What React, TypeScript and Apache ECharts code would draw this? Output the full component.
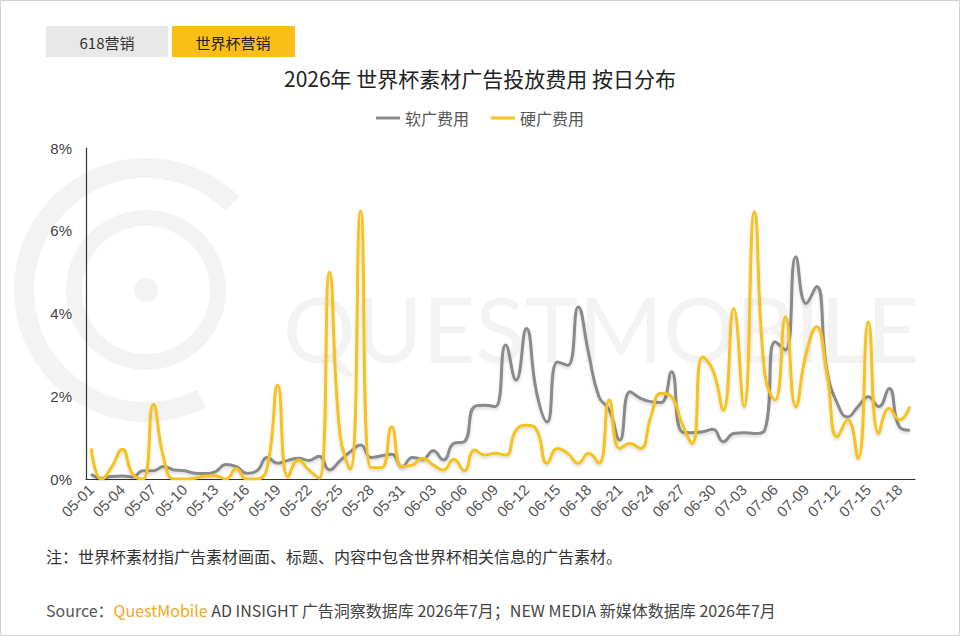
import React, { useEffect, useRef } from "react";
import * as echarts from "echarts";

const dates = [
  "05-01","05-02","05-03","05-04","05-05","05-06","05-07","05-08","05-09","05-10",
  "05-11","05-12","05-13","05-14","05-15","05-16","05-17","05-18","05-19","05-20",
  "05-21","05-22","05-23","05-24","05-25","05-26","05-27","05-28","05-29","05-30",
  "05-31","06-01","06-02","06-03","06-04","06-05","06-06","06-07","06-08","06-09",
  "06-10","06-11","06-12","06-13","06-14","06-15","06-16","06-17","06-18","06-19",
  "06-20","06-21","06-22","06-23","06-24","06-25","06-26","06-27","06-28","06-29",
  "06-30","07-01","07-02","07-03","07-04","07-05","07-06","07-07","07-08","07-09",
  "07-10","07-11","07-12","07-13","07-14","07-15","07-16","07-17","07-18","07-19",
];

// 软广费用 (%)
const softAd = [
  0.12, 0.02, 0.06, 0.07, 0.05, 0.2, 0.2, 0.3, 0.22, 0.2,
  0.14, 0.13, 0.18, 0.35, 0.3, 0.14, 0.2, 0.52, 0.38, 0.45,
  0.5, 0.45, 0.55, 0.22, 0.44, 0.66, 0.82, 0.52, 0.56, 0.6,
  0.3, 0.52, 0.48, 0.68, 0.46, 0.86, 0.9, 1.75, 1.78, 1.75,
  3.24, 2.39, 3.64, 2.07, 1.38, 2.83, 2.75, 4.16, 3.04, 1.99,
  1.67, 0.94, 2.11, 1.95, 1.87, 1.85, 2.59, 1.14, 1.12, 1.14,
  1.2, 0.9, 1.1, 1.12, 1.1, 1.18, 3.32, 3.12, 5.37, 4.24,
  4.65, 2.63, 1.83, 1.5, 1.75, 1.99, 1.75, 2.19, 1.26, 1.18,
];

// 硬广费用 (%)
const hardAd = [
  0.74, 0.0, 0.3, 0.72, 0.12, 0.0, 1.8, 0.5, 0.0, 0.0,
  0.02, 0.07, 0.08, 0.0, 0.25, 0.0, 0.0, 0.3, 2.27, 0.05,
  0.46, 0.22, 0.02, 5.0, 1.1, 0.24, 6.48, 0.27, 0.27, 1.26,
  0.3, 0.34, 0.5, 0.34, 0.22, 0.48, 0.2, 0.7, 0.58, 0.62,
  0.58, 1.18, 1.3, 1.18, 0.38, 0.74, 0.62, 0.38, 0.62, 0.38,
  1.91, 0.74, 0.86, 0.74, 1.5, 2.07, 1.99, 1.35, 0.86, 2.95,
  2.63, 1.67, 4.12, 1.75, 6.46, 2.55, 1.91, 3.92, 1.75, 3.04,
  3.68, 2.55, 1.02, 1.43, 0.5, 3.8, 1.1, 1.71, 1.43, 1.75,
];

const seriesNames = ["软广费用", "硬广费用"];
const seriesColors = ["#8a8a8a", "#f7c21a"];
const yTicks = { min: 0, max: 8, interval: 2 };

const CJK = "'Noto Sans CJK SC', 'Noto Sans', sans-serif";
const LAT = "'Liberation Sans', Arial, sans-serif";

export default function App() {
  const ref = useRef<HTMLDivElement>(null);

  useEffect(() => {
    document.body.style.margin = "0";
    if (!ref.current) return;
    const chart = echarts.init(ref.current, null, { renderer: "svg" });
    const wm = "#f3f3f3";
    chart.setOption({
      animation: false,
      backgroundColor: "#ffffff",
      textStyle: { fontFamily: CJK },
      graphic: [
        // watermark
        { type: "circle", silent: true, z: -10, shape: { cx: 146, cy: 290, r: 12 }, style: { fill: wm } },
        { type: "arc", silent: true, z: -10, shape: { cx: 146, cy: 290, r: 72, startAngle: 0, endAngle: Math.PI * 2 }, style: { stroke: wm, lineWidth: 16, fill: "none" } },
        { type: "arc", silent: true, z: -10, shape: { cx: 146, cy: 290, r: 122, startAngle: Math.PI * 0.35, endAngle: Math.PI * 1.75 }, style: { stroke: wm, lineWidth: 20, fill: "none" } },
        { type: "text", silent: true, z: -10, left: 283, top: 282, style: { text: "QUESTMOBILE", font: "400 91px Lato, 'Noto Sans', sans-serif", fill: wm } },
        // border
        { type: "rect", silent: true, shape: { x: 0.5, y: 0.5, width: 959, height: 635 }, style: { fill: "none", stroke: "#d2d2d2", lineWidth: 1 } },
        // tabs
        { type: "rect", shape: { x: 46, y: 26, width: 122, height: 31 }, style: { fill: "#e8e8e8" } },
        { type: "text", x: 107, y: 42, style: { text: "618营销", fill: "#333", font: `15px ${CJK}`, align: "center", verticalAlign: "middle" } },
        { type: "rect", shape: { x: 172, y: 26, width: 123, height: 31 }, style: { fill: "#fbbe17" } },
        { type: "text", x: 233, y: 42, style: { text: "世界杯营销", fill: "#222", font: `15px ${CJK}`, align: "center", verticalAlign: "middle" } },
        // footnotes
        { type: "text", x: 46, y: 556, style: { text: "注：世界杯素材指广告素材画面、标题、内容中包含世界杯相关信息的广告素材。", fill: "#333", font: `16px ${CJK}`, verticalAlign: "middle" } },
        {
          type: "text", x: 46, y: 610,
          style: {
            text: "{a|Source：}{b|QuestMobile}{c| AD INSIGHT 广告洞察数据库 2026年7月；NEW MEDIA 新媒体数据库 2026年7月}",
            verticalAlign: "middle",
            rich: {
              a: { fill: "#555", fontSize: 16, fontFamily: CJK },
              b: { fill: "#f5a623", fontSize: 16, fontFamily: CJK },
              c: { fill: "#444", fontSize: 16, fontFamily: CJK },
            },
          },
        },
      ],
      title: {
        text: "2026年 世界杯素材广告投放费用 按日分布",
        left: "center",
        top: 62,
        textStyle: { fontSize: 21, fontWeight: "normal", color: "#222", fontFamily: CJK },
      },
      legend: {
        top: 105,
        left: "center",
        data: seriesNames,
        icon: "rect",
        itemWidth: 24,
        itemHeight: 3,
        itemGap: 22,
        textStyle: { fontSize: 16, color: "#555", fontFamily: CJK },
      },
      grid: { left: 86, right: 45, top: 148, bottom: 157 },
      xAxis: {
        type: "category",
        data: dates,
        boundaryGap: true,
        axisLine: { lineStyle: { color: "#333", width: 1.2 } },
        axisTick: { show: false },
        axisLabel: {
          interval: 2,
          rotate: 45,
          fontSize: 15,
          color: "#555",
          fontFamily: LAT,
          margin: 8,
        },
      },
      yAxis: {
        type: "value",
        min: yTicks.min,
        max: yTicks.max,
        interval: yTicks.interval,
        axisLine: { show: true, lineStyle: { color: "#333", width: 1.2 } },
        axisTick: { show: false },
        splitLine: { show: false },
        axisLabel: { formatter: "{value}%", fontSize: 15, color: "#444", fontFamily: LAT, margin: 14 },
      },
      series: [
        {
          name: seriesNames[0],
          type: "line",
          data: softAd,
          smooth: 0.5,
          showSymbol: false,
          lineStyle: { color: seriesColors[0], width: 3, shadowColor: "rgba(0,0,0,0.15)", shadowBlur: 3, shadowOffsetY: 2 },
          itemStyle: { color: seriesColors[0] },
          z: 2,
        },
        {
          name: seriesNames[1],
          type: "line",
          data: hardAd,
          smooth: 0.5,
          showSymbol: false,
          lineStyle: { color: seriesColors[1], width: 3, shadowColor: "rgba(0,0,0,0.15)", shadowBlur: 3, shadowOffsetY: 2 },
          itemStyle: { color: seriesColors[1] },
          z: 3,
        },
      ],
    });
    return () => chart.dispose();
  }, []);

  return <div ref={ref} style={{ width: 960, height: 636 }} />;
}
